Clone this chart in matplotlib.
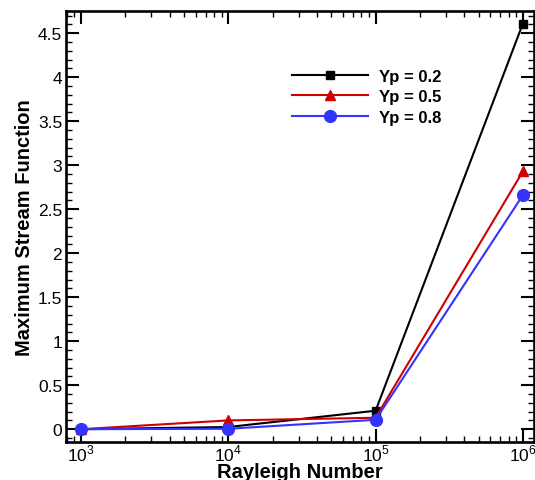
"""Maximum stream function against Rayleigh number for three Yp positions."""

import math

import matplotlib
matplotlib.use("Agg")
import matplotlib.pyplot as plt
from matplotlib.ticker import LogLocator, MultipleLocator, FuncFormatter

plt.rcParams["font.family"] = ["Liberation Sans", "DejaVu Sans"]
plt.rcParams["mathtext.fontset"] = "custom"
plt.rcParams["mathtext.rm"] = "Liberation Sans"

rayleigh = [1e3, 1e4, 1e5, 1e6]
psi_yp02 = [0.0, 0.025, 0.21, 4.61]
psi_yp05 = [0.0, 0.10, 0.13, 2.93]
psi_yp08 = [0.0, 0.005, 0.107, 2.66]

series = [
    ("Yp = 0.2", psi_yp02, "black", "s", 6),
    ("Yp = 0.5", psi_yp05, "#d00000", "^", 6.5),
    ("Yp = 0.8", psi_yp08, "#3333ff", "o", 8.5),
]

fig = plt.figure(figsize=(5.35, 4.81), dpi=100)
ax = fig.add_axes([0.124, 0.080, 0.874, 0.8945])

for label, vals, colour, marker, ms in series:
    ax.plot(rayleigh, vals, color=colour, marker=marker, markersize=ms,
            linewidth=1.5, label=label)

ax.set_xscale("log")
ax.set_xlim(10 ** 2.90, 10 ** 6.075)
ax.set_ylim(-0.14, 4.75)


def pow10_label(v, _):
    return f"10$^{{{int(round(math.log10(v)))}}}$"


ax.xaxis.set_major_locator(LogLocator(base=10, numticks=10))
ax.xaxis.set_minor_locator(LogLocator(base=10, subs=range(2, 10), numticks=20))
ax.xaxis.set_major_formatter(FuncFormatter(pow10_label))
ax.yaxis.set_major_locator(MultipleLocator(0.5))
ax.yaxis.set_minor_locator(MultipleLocator(0.1))
ax.yaxis.set_major_formatter(FuncFormatter(lambda v, _: f"{v:g}"))

for side in ax.spines.values():
    side.set_linewidth(1.9)
ax.tick_params(which="both", direction="in", top=True, right=True, labelsize=12.5)
ax.tick_params(which="major", length=9.5, width=1.5, pad=3)
ax.tick_params(which="minor", length=4.5, width=1.0)
ax.tick_params(axis="x", which="major", pad=1)

ax.set_xlabel("Rayleigh Number", fontsize=14.5, fontweight="bold", labelpad=-1)
ax.set_ylabel("Maximum Stream Function", fontsize=14.5, fontweight="bold", labelpad=3)

ax.legend(loc="upper left", bbox_to_anchor=(0.482, 0.866), frameon=False,
          prop={"weight": "bold", "size": 12}, handlelength=4.6,
          handletextpad=0.66, labelspacing=0.32, borderpad=0, borderaxespad=0)

fig.savefig("out.png", dpi=100)
